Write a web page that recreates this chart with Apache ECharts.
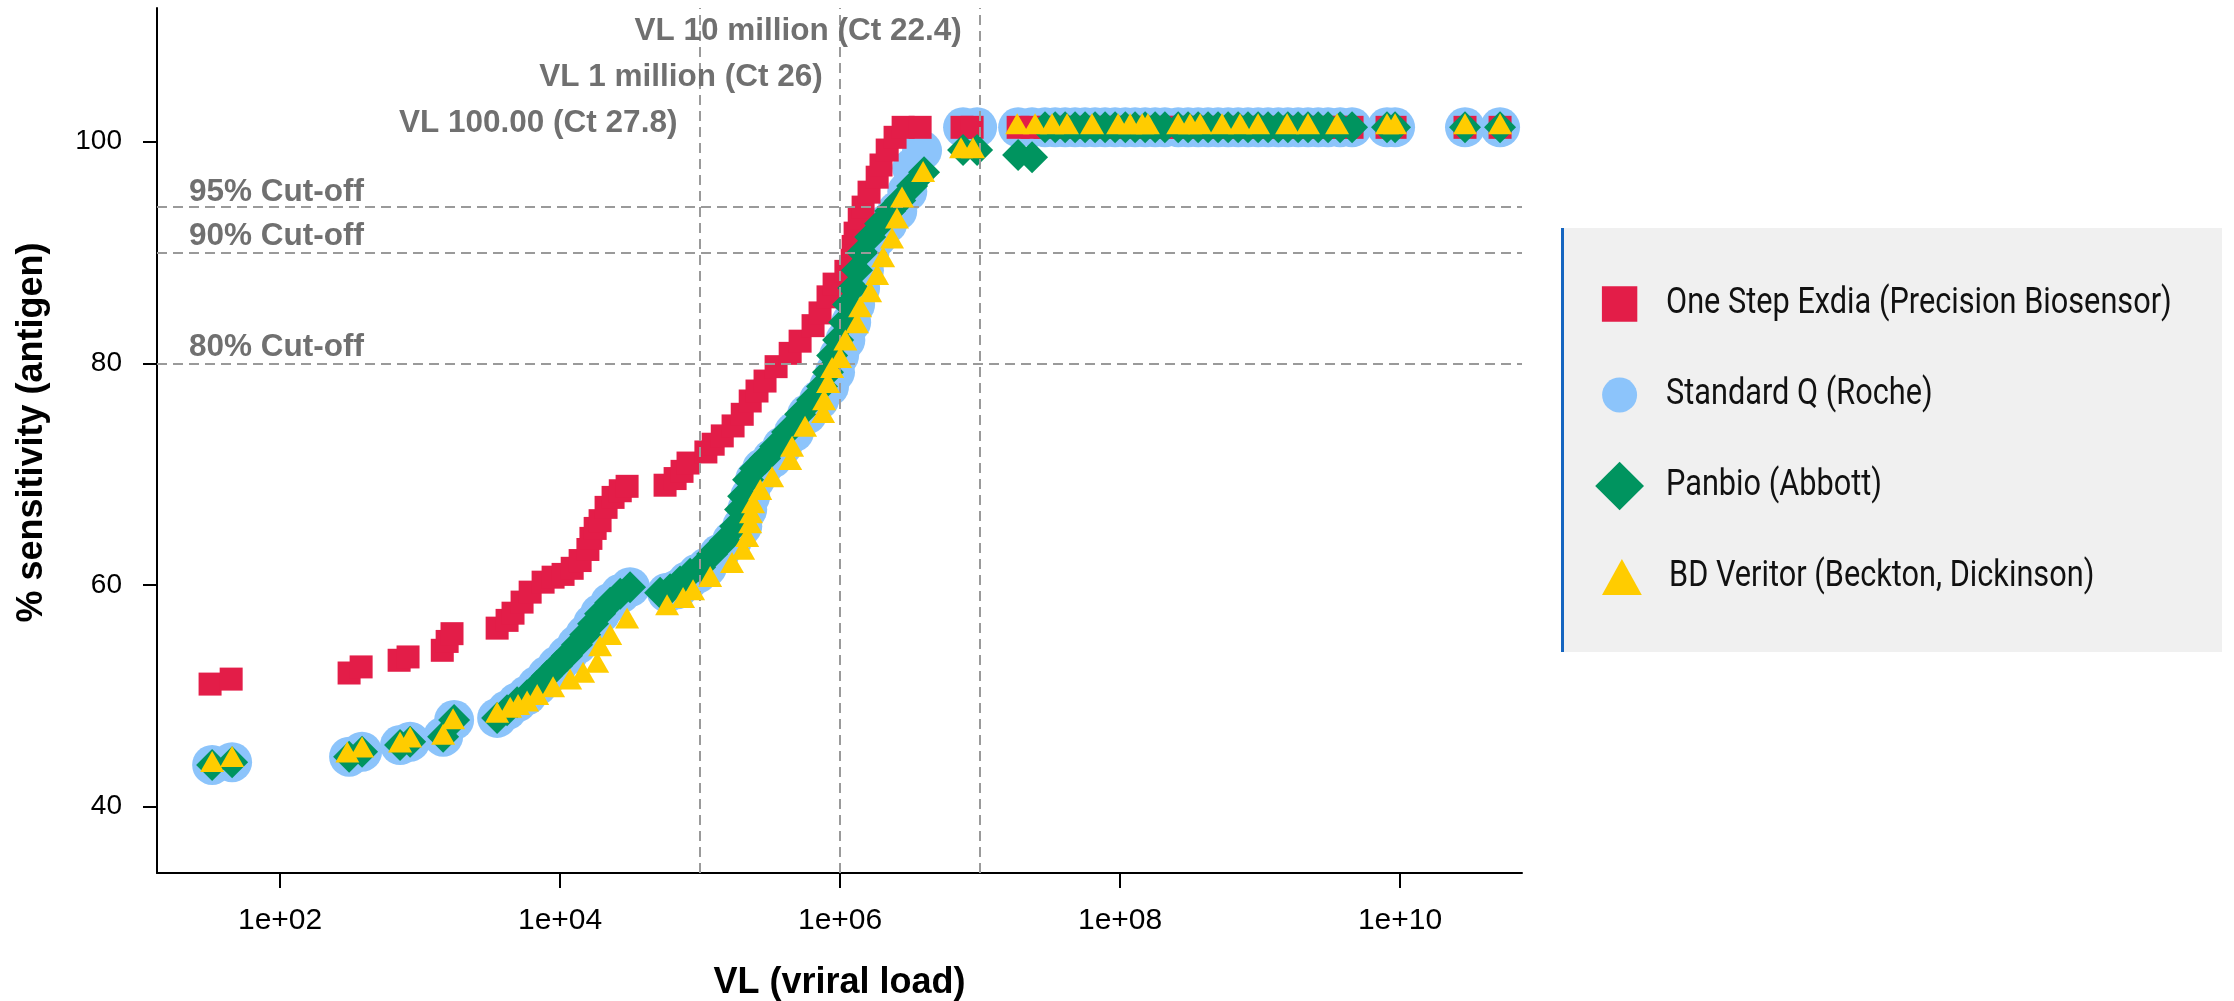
<!DOCTYPE html>
<html>
<head>
<meta charset="utf-8">
<script src="https://cdn.jsdelivr.net/npm/echarts@6/dist/echarts.min.js"></script>
<style>
html,body{margin:0;padding:0;background:#ffffff;}
#chart{width:2234px;height:1001px;}
</style>
</head>
<body>
<div id="chart"></div>
<script>
// ---------------- DATA ----------------
const seriesNames = ['One Step Exdia (Precision Biosensor)', 'Standard Q (Roche)', 'Panbio (Abbott)', 'BD Veritor (Beckton, Dickinson)'];

// shared plateau (100% region) viral loads and sensitivities
const plateauVL = [2.91e7,3.44e7,4.05e7,4.77e7,5.62e7,6.63e7,7.81e7,9.21e7,1.09e8,1.28e8,1.51e8,1.78e8,2.09e8,2.60e8,3.06e8,3.61e8,4.25e8,5.01e8,5.91e8,6.97e8,8.20e8,9.68e8,1.14e9,1.35e9,1.58e9,1.87e9,2.20e9,2.60e9,3.06e9,3.73e9,4.54e9,8.07e9,9.21e9,2.91e10,5.18e10];
const plateauSens = [101.3,101.3,101.3,101.3,101.3,101.3,101.3,101.3,101.3,101.3,101.3,101.3,101.3,101.3,101.3,101.3,101.3,101.3,101.3,101.3,101.3,101.3,101.3,101.3,101.3,101.3,101.3,101.3,101.3,101.3,101.3,101.3,101.3,101.3,101.3];

// One Step Exdia (Precision Biosensor)
const exdiaVL = [3.16e1,4.47e1,3.11e2,3.79e2,7.08e2,8.20e2,1.44e3,1.56e3,1.69e3,3.55e3,4.18e3,4.61e3,5.35e3,6.11e3,7.56e3,8.91e3,1.05e4,1.22e4,1.39e4,1.58e4,1.66e4,1.78e4,1.93e4,2.13e4,2.39e4,2.69e4,3.01e4,5.62e4,6.63e4,7.43e4,8.20e4,1.10e5,1.24e5,1.44e5,1.72e5,2.00e5,2.28e5,2.55e5,2.91e5,3.49e5,4.40e5,5.18e5,6.41e5,7.19e5,8.20e5,9.06e5,1.10e6,1.22e6,1.24e6,1.28e6,1.37e6,1.46e6,1.61e6,1.84e6,1.96e6,2.17e6,2.47e6,2.82e6,3.73e6,7.43e6,8.77e6,1.87e7,2.35e7];
const exdiaSens = [51.05,51.5,52.05,52.6,53.2,53.5,54.1,54.9,55.6,56.1,56.8,57.45,58.45,59.35,60.25,60.7,60.95,61.5,62.2,63.2,64.2,65.1,65.8,67.0,67.9,68.5,68.9,69.0,69.6,70.25,71.0,72.0,72.7,73.45,74.35,75.4,76.6,77.5,78.4,79.7,80.9,82.0,83.4,84.55,86.0,87.15,88.3,89.3,90.55,91.75,93.1,94.1,95.45,96.8,97.9,99.25,100.4,101.3,101.3,101.3,101.3,101.3,101.3];

// Standard Q (Roche)
const standardQVL = [3.27e1,4.54e1,3.11e2,3.85e2,7.19e2,8.49e2,1.46e3,1.75e3,3.55e3,4.18e3,4.93e3,5.81e3,6.86e3,8.07e3,9.53e3,1.12e4,1.32e4,1.51e4,1.72e4,1.93e4,2.28e4,2.69e4,3.16e4,5.81e4,6.86e4,8.07e4,9.53e4,1.12e5,1.37e5,1.69e5,2.0e5,2.17e5,2.28e5,2.47e5,2.77e5,3.27e5,3.86e5,4.69e5,5.81e5,7.08e5,8.34e5,9.2e5,9.84e5,1.09e6,1.20e6,1.28e6,1.39e6,1.48e6,1.62e6,1.84e6,2.17e6,2.56e6,3.02e6,3.27e6,3.85e6,7.56e6,9.52e6,1.87e7,2.35e7];
const standardQSens = [43.75,44.0,44.5,44.95,45.55,45.85,46.3,47.8,48.0,48.7,49.4,50.05,50.9,51.8,52.7,53.6,54.6,55.5,56.5,57.4,58.4,59.2,59.8,59.3,59.6,60.3,61.0,61.6,62.8,64.0,65.3,66.8,68.0,69.5,70.5,71.4,72.5,73.8,75.4,76.7,77.9,79.2,80.7,82.1,83.7,85.3,86.8,88.4,90.0,91.4,92.6,93.75,95.5,97.6,99.2,101.3,101.3,101.3,101.3];

// Panbio (Abbott)
const panbioVL = [3.27e1,4.54e1,3.11e2,3.85e2,7.19e2,8.49e2,1.46e3,1.75e3,3.55e3,4.18e3,4.93e3,5.81e3,6.86e3,8.07e3,9.53e3,1.12e4,1.32e4,1.51e4,1.72e4,1.93e4,2.28e4,2.69e4,3.16e4,5.18e4,6.11e4,7.19e4,8.49e4,1.0e5,1.22e5,1.51e5,1.78e5,1.93e5,2.03e5,2.20e5,2.47e5,2.91e5,3.44e5,4.18e5,5.18e5,6.31e5,7.43e5,8.20e5,8.77e5,9.68e5,1.07e6,1.14e6,1.24e6,1.32e6,1.44e6,1.64e6,1.93e6,2.28e6,2.69e6,3.27e6,3.98e6,7.56e6,9.52e6,1.87e7,2.35e7];
const panbioSens = [43.75,44.0,44.5,44.95,45.55,45.85,46.3,47.8,48.0,48.7,49.4,50.05,50.9,51.8,52.7,53.6,54.6,55.5,56.5,57.4,58.4,59.2,59.8,59.3,59.6,60.3,61.0,61.6,62.8,64.0,65.3,66.8,68.0,69.5,70.5,71.4,72.5,73.8,75.4,76.7,77.9,79.2,80.7,82.1,83.7,85.3,86.8,88.4,90.0,91.4,92.6,93.75,94.7,96.0,97.25,99.25,99.25,98.8,98.6];

// BD Veritor (Beckton, Dickinson)
const veritorVL = [3.27e1,4.54e1,3.02e2,3.85e2,7.19e2,8.49e2,1.46e3,1.72e3,3.55e3,4.40e3,5.01e3,5.81e3,6.86e3,8.91e3,1.18e4,1.46e4,1.84e4,1.93e4,2.28e4,3.01e4,5.81e4,7.56e4,8.91e4,1.18e5,1.69e5,2.03e5,2.17e5,2.28e5,2.31e5,2.39e5,2.69e5,3.27e5,4.40e5,4.54e5,5.62e5,7.56e5,7.69e5,8.20e5,8.77e5,1.00e6,1.09e6,1.32e6,1.39e6,1.64e6,1.84e6,2.03e6,2.35e6,2.55e6,2.77e6,3.92e6,7.31e6,8.91e6,1.84e7,2.47e7,3.27e7,4.18e7,6.31e7,9.68e7,1.18e8,1.44e8,1.58e8,2.60e8,3.16e8,3.73e8,5.35e8,7.19e8,9.68e8,1.56e9,2.20e9,3.55e9,8.07e9,9.21e9,2.91e10,5.18e10];
const veritorSens = [43.75,44.2,44.6,45.05,45.5,45.95,46.2,47.6,48.2,48.65,48.9,49.2,49.8,50.5,51.2,51.8,52.7,54.2,55.2,56.7,57.9,58.55,59.25,60.45,61.7,62.9,64.05,65.3,66.2,67.1,68.3,69.45,71.0,72.2,74.0,75.25,76.4,77.95,79.3,80.2,81.8,83.35,84.8,86.15,87.7,89.3,91.0,92.8,94.7,97.0,99.15,99.15,101.3,101.3,101.3,101.3,101.3,101.3,101.3,101.3,101.3,101.3,101.3,101.3,101.3,101.3,101.3,101.3,101.3,101.3,101.3,101.3,101.3,101.3];

// reference lines and ticks
const xTickValues = [1e2, 1e4, 1e6, 1e8, 1e10];
const yTickValues = [40, 60, 80, 100];
const vlLineValues = [1e5, 1e6, 1e7];
const vlLineLabels = ['VL 100.00 (Ct 27.8)', 'VL 1 million (Ct 26)', 'VL 10 million (Ct 22.4)'];
const cutoffValues = [94.13, 90, 80];
const cutoffLabels = ['95% Cut-off', '90% Cut-off', '80% Cut-off'];

// ---------------- CHART ----------------
function zip(a, b) {
  const n = Math.min(a.length, b.length);
  const out = [];
  for (let i = 0; i < n; i++) out.push([a[i], b[i]]);
  return out;
}
function fmtExp(v) {
  const e = Math.round(Math.log10(v));
  return '1e+' + (e < 10 ? '0' + e : String(e));
}

const FONT = '"Liberation Sans", Arial, sans-serif';
const COLORS = {red: '#e31d48', blue: '#8cc4fb', green: '#00945f', yellow: '#ffcc00'};
const chart = echarts.init(document.getElementById('chart'), null, {renderer: 'canvas'});

const option = {
  animation: false,
  backgroundColor: '#ffffff',
  grid: {left: 157, right: 712, top: 8, bottom: 128, containLabel: false, outerBoundsMode: 'none'},
  xAxis: {
    type: 'log', logBase: 10, min: 13.2, max: 7.43e10,
    name: 'VL (vriral load)', nameLocation: 'middle', nameGap: 92,
    nameTextStyle: {fontFamily: FONT, fontWeight: 'bold', fontSize: 36, color: '#000'},
    axisLine: {show: true, onZero: false, lineStyle: {color: '#000', width: 2}},
    axisTick: {show: true, customValues: xTickValues, length: 15, lineStyle: {color: '#000', width: 2}},
    axisLabel: {show: true, customValues: xTickValues, margin: 33, fontFamily: FONT, fontSize: 30, color: '#000', formatter: fmtExp},
    splitLine: {show: false},
    minorTick: {show: false}
  },
  yAxis: {
    type: 'value', min: 34.0, max: 112.07,
    name: '% sensitivity (antigen)', nameLocation: 'middle', nameGap: 107, nameRotate: 90,
    nameTextStyle: {fontFamily: FONT, fontWeight: 'bold', fontSize: 36, color: '#000', padding: [0, 0, 0, 16]},
    axisLine: {show: true, onZero: false, lineStyle: {color: '#000', width: 2}},
    axisTick: {show: true, customValues: yTickValues, length: 14, lineStyle: {color: '#000', width: 2}},
    axisLabel: {show: true, customValues: yTickValues, margin: 35, fontFamily: FONT, fontSize: 28, color: '#000'},
    splitLine: {show: false}
  },
  series: [
    {
      name: seriesNames[1], type: 'scatter', symbol: 'circle', symbolSize: 40,
      itemStyle: {color: COLORS.blue, opacity: 1},
      data: zip(standardQVL.concat(plateauVL), standardQSens.concat(plateauSens)),
      z: 2
    },
    {
      name: seriesNames[0], type: 'scatter', symbol: 'rect', symbolSize: 23,
      itemStyle: {color: COLORS.red, opacity: 1},
      data: zip(exdiaVL.concat(plateauVL), exdiaSens.concat(plateauSens)),
      z: 3
    },
    {
      name: seriesNames[2], type: 'scatter', symbol: 'diamond', symbolSize: 32,
      itemStyle: {color: COLORS.green, opacity: 1},
      data: zip(panbioVL.concat(plateauVL), panbioSens.concat(plateauSens)),
      z: 4
    },
    {
      name: seriesNames[3], type: 'scatter', symbol: 'triangle', symbolSize: [24, 21], symbolOffset: [0, -3.5],
      itemStyle: {color: COLORS.yellow, opacity: 1},
      data: zip(veritorVL, veritorSens),
      z: 5,
      markLine: {
        silent: true, animation: false, symbol: ['none', 'none'],
        label: {show: false},
        lineStyle: {color: '#9a9a9a', type: [10, 6], width: 2},
        emphasis: {disabled: true},
        data: vlLineValues.map(v => ({xAxis: v})).concat(cutoffValues.map(v => ({yAxis: v})))
      }
    }
  ]
};
chart.setOption(option);

// ---------------- ANNOTATIONS & LEGEND ----------------
function buildGraphics() {
  const els = [];
  const annoStyle = {fill: '#707070', fontFamily: FONT, fontWeight: 'bold', fontSize: 31.5};
  const gridLeft = chart.convertToPixel({xAxisIndex: 0}, 13.2);
  // cut-off labels
  const cutoffRaise = [14.5, 16.6, 15.8];
  cutoffValues.forEach((v, i) => {
    const y = chart.convertToPixel({yAxisIndex: 0}, v);
    els.push({type: 'text', silent: true, z: 20, x: gridLeft + 32, y: y - cutoffRaise[i],
      style: Object.assign({text: cutoffLabels[i], align: 'left', verticalAlign: 'middle'}, annoStyle)});
  });
  // VL labels (stacked above each vertical line)
  const vlGap = [22.7, 17.3, 18.3];
  const vlTextY = [123, 77.5, 31.5];
  vlLineValues.forEach((v, i) => {
    const x = chart.convertToPixel({xAxisIndex: 0}, v);
    els.push({type: 'text', silent: true, z: 20, x: x - vlGap[i], y: vlTextY[i],
      style: Object.assign({text: vlLineLabels[i], align: 'right', verticalAlign: 'middle'}, annoStyle)});
  });

  // legend box
  const lx = 1561, ly = 228, lw = 661, lh = 424;
  els.push({type: 'rect', silent: true, z: 20, shape: {x: lx, y: ly, width: lw, height: lh}, style: {fill: '#f0f0f0'}});
  els.push({type: 'rect', silent: true, z: 21, shape: {x: lx, y: ly, width: 3, height: lh}, style: {fill: '#1565c0'}});
  const cx = 1619.6;
  const rowY = [304, 395, 486, 577];
  els.push({type: 'rect', silent: true, z: 22, shape: {x: cx - 17.7, y: rowY[0] - 17.8, width: 35.4, height: 35.6}, style: {fill: COLORS.red}});
  els.push({type: 'circle', silent: true, z: 22, shape: {cx: cx, cy: rowY[1], r: 17.5}, style: {fill: COLORS.blue}});
  els.push({type: 'polygon', silent: true, z: 22, shape: {points: [[cx, rowY[2] - 24.2], [cx + 24.4, rowY[2]], [cx, rowY[2] + 24.2], [cx - 24.4, rowY[2]]]}, style: {fill: COLORS.green}});
  els.push({type: 'polygon', silent: true, z: 22, shape: {points: [[cx + 2.3, rowY[3] - 18], [cx + 22.2, rowY[3] + 18], [cx - 17.6, rowY[3] + 18]]}, style: {fill: COLORS.yellow}});
  const legendTextX = [1666, 1666, 1666, 1669];
  seriesNames.forEach((t, i) => {
    els.push({type: 'text', silent: true, z: 22, x: legendTextX[i], y: rowY[i], scaleX: 0.853, scaleY: 1,
      style: {text: t, align: 'left', verticalAlign: 'middle', fill: '#111', fontFamily: 'Roboto', fontSize: 36}});
  });
  return els;
}
chart.setOption({graphic: {elements: buildGraphics()}});
</script>
</body>
</html>
